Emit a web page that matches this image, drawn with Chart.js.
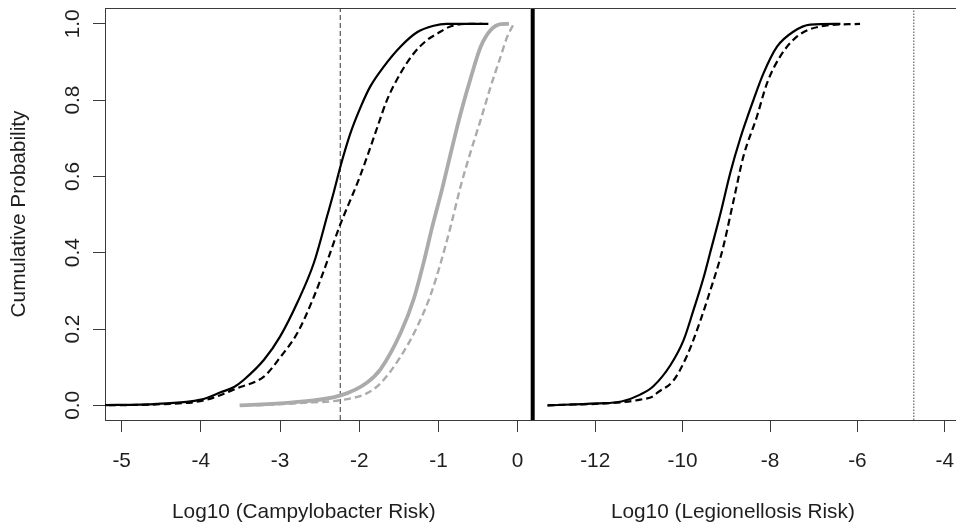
<!DOCTYPE html>
<html>
<head>
<meta charset="utf-8">
<script src="https://cdn.jsdelivr.net/npm/chart.js@4.4.1/dist/chart.umd.min.js"></script>
<style>
  html, body { margin: 0; padding: 0; background: #ffffff; }
  #wrap { width: 956px; height: 522px; }
</style>
</head>
<body>
<div id="wrap"><canvas id="c" width="956" height="522"></canvas></div>
<script>
// ---- Campylobacter panel (log10 risk) ----
const campyBaseX = [-5.3, -4.55, -4.0, -3.75, -3.58, -3.456, -3.2, -3.0, -2.78, -2.57, -2.40, -2.32, -2.235, -2.11, -1.98, -1.86, -1.69, -1.48, -1.27, -1.06, -0.9, -0.37];
const campyBaseY = [0.0, 0.004, 0.015, 0.034, 0.048, 0.067, 0.12, 0.18, 0.27, 0.375, 0.50, 0.56, 0.628, 0.714, 0.783, 0.836, 0.888, 0.94, 0.978, 0.995, 1.0, 1.0];

const campyAltX = [-5.3, -4.5, -3.96, -3.54, -3.20, -2.99, -2.78, -2.57, -2.40, -2.256, -2.0, -1.90, -1.77, -1.65, -1.48, -1.31, -1.14, -1.01, -0.85, -0.59, -0.45];
const campyAltY = [0.0, 0.003, 0.013, 0.045, 0.076, 0.128, 0.19, 0.286, 0.38, 0.465, 0.595, 0.652, 0.73, 0.80, 0.87, 0.923, 0.958, 0.975, 0.993, 1.0, 1.0];

const campyHighX = [-3.51, -2.87, -2.235, -1.90, -1.73, -1.477, -1.31, -1.18, -1.077, -0.95, -0.846, -0.72, -0.59, -0.467, -0.34, -0.21, -0.11];
const campyHighY = [0.0, 0.007, 0.026, 0.06, 0.095, 0.19, 0.28, 0.38, 0.469, 0.57, 0.66, 0.765, 0.86, 0.94, 0.984, 0.999, 1.0];

const campyHighAltX = [-3.3, -2.74, -2.19, -1.90, -1.73, -1.477, -1.266, -1.098, -0.972, -0.846, -0.72, -0.593, -0.467, -0.34, -0.215, -0.13, -0.067, -0.05];
const campyHighAltY = [0.0, 0.006, 0.015, 0.032, 0.058, 0.128, 0.207, 0.29, 0.373, 0.469, 0.574, 0.665, 0.748, 0.836, 0.914, 0.967, 0.993, 1.0];

const campyGuideX = -2.24;

// ---- Legionellosis panel (log10 risk) ----
const legioBaseX = [-13.09, -11.96, -11.4, -10.97, -10.67, -10.28, -9.98, -9.75, -9.52, -9.37, -9.14, -8.91, -8.68, -8.38, -8.15, -7.84, -7.46, -7.08, -6.39];
const legioBaseY = [0.0, 0.005, 0.01, 0.028, 0.05, 0.105, 0.17, 0.25, 0.335, 0.40, 0.50, 0.609, 0.70, 0.80, 0.87, 0.94, 0.98, 0.998, 1.0];

const legioAltX = [-13.09, -11.4, -10.97, -10.67, -10.59, -10.21, -9.90, -9.60, -9.37, -9.14, -9.06, -8.83, -8.61, -8.30, -8.07, -7.77, -7.38, -6.85, -5.94];
const legioAltY = [0.0, 0.008, 0.015, 0.024, 0.032, 0.065, 0.13, 0.22, 0.30, 0.385, 0.42, 0.539, 0.652, 0.757, 0.844, 0.914, 0.967, 0.993, 1.0];

const legioGuideX = -4.71;

// ---- axes ----
const xLeftTicks = [-5, -4, -3, -2, -1, 0];
const xRightTicks = [-12, -10, -8, -6, -4];
const yTicks = [0, 0.2, 0.4, 0.6, 0.8, 1.0];
const yTickLabels = ['0.0', '0.2', '0.4', '0.6', '0.8', '1.0'];
const xLeftTitle = 'Log10 (Campylobacter Risk)';
const xRightTitle = 'Log10 (Legionellosis Risk)';
const yTitle = 'Cumulative Probability';

const X_LEFT_MIN = -5.21, X_LEFT_MAX = 0.19;
const X_RIGHT_MIN = -13.43, X_RIGHT_MAX = -3.745;
const Y_MIN = -0.0385, Y_MAX = 1.0415;

const FONT = '"Liberation Sans", Arial, sans-serif';
const FONT_SIZE = 20.8;
const TEXT = '#1e1e1e';
const FRAME = '#3a3a3a';
const GREY = '#ababab';

const pts = (xs, ys) => xs.map((x, i) => ({ x, y: ys[i] }));
const vline = (x) => [{ x, y: Y_MIN }, { x, y: Y_MAX }];

const curve = (label, xs, ys, axis, color, width, dash) => ({
  label, xAxisID: axis, data: pts(xs, ys),
  borderColor: color, borderWidth: width, borderDash: dash || [],
  cubicInterpolationMode: 'monotone', pointRadius: 0, fill: false, borderCapStyle: 'butt'
});
const rule = (label, x, axis, color, width, dash) => ({
  label, xAxisID: axis, data: vline(x),
  borderColor: color, borderWidth: width, borderDash: dash || [],
  tension: 0, pointRadius: 0, fill: false, borderCapStyle: 'butt', clip: false
});

const datasets = [
  rule('panel divider', X_LEFT_MAX, 'xL', '#000000', 4),
  curve('Campylobacter', campyBaseX, campyBaseY, 'xL', '#000000', 2.2),
  curve('Campylobacter (alt)', campyAltX, campyAltY, 'xL', '#000000', 2.2, [7, 4]),
  curve('Campylobacter (high)', campyHighX, campyHighY, 'xL', GREY, 3.8),
  curve('Campylobacter (high, alt)', campyHighAltX, campyHighAltY, 'xL', GREY, 2.4, [7, 4]),
  rule('Campylobacter guide', campyGuideX, 'xL', '#333333', 1, [5, 3]),
  curve('Legionellosis', legioBaseX, legioBaseY, 'xR', '#000000', 2.2),
  curve('Legionellosis (alt)', legioAltX, legioAltY, 'xR', '#000000', 2.2, [7, 4]),
  rule('Legionellosis guide', legioGuideX, 'xR', '#444444', 1, [1.5, 1.5])
];

const setTicks = (values) => (scale) => { scale.ticks = values.map(v => ({ value: v })); };

const xAxis = (min, max, ticks, weight) => ({
  type: 'linear', position: 'bottom', stack: 'bottom', stackWeight: weight,
  min, max,
  afterBuildTicks: setTicks(ticks),
  afterFit: (s) => { s.height = 102; s.paddingLeft = 0; s.paddingRight = 0; },
  grid: { drawOnChartArea: false, drawTicks: true, tickLength: 12, color: FRAME, lineWidth: 1 },
  border: { display: true, color: FRAME, width: 1 },
  ticks: {
    autoSkip: false, maxRotation: 0, minRotation: 0, padding: 17,
    color: TEXT, font: { family: FONT, size: FONT_SIZE },
    callback: (v) => String(v)
  }
});

// frame top edge, rotated y labels and the two axis titles
const annotate = {
  id: 'annotate',
  afterDraw(chart) {
    const { ctx, chartArea, scales } = chart;
    ctx.save();
    ctx.strokeStyle = FRAME;
    ctx.lineWidth = 1;
    ctx.beginPath();
    ctx.moveTo(chartArea.left, Math.round(chartArea.top) + 0.5);
    ctx.lineTo(chartArea.right, Math.round(chartArea.top) + 0.5);
    ctx.stroke();

    ctx.fillStyle = TEXT;
    ctx.font = FONT_SIZE + 'px ' + FONT;
    ctx.textAlign = 'center';
    ctx.textBaseline = 'alphabetic';
    yTicks.forEach((v, i) => {
      const py = scales.y.getPixelForValue(v);
      ctx.save();
      ctx.translate(78.5, py);
      ctx.rotate(-Math.PI / 2);
      ctx.fillText(yTickLabels[i], 0, 0);
      ctx.restore();
    });

    ctx.save();
    ctx.translate(25, (chartArea.top + chartArea.bottom) / 2);
    ctx.rotate(-Math.PI / 2);
    ctx.fillText(yTitle, 0, 0);
    ctx.restore();

    ctx.fillText(xLeftTitle, scales.xL.getPixelForValue(-2.70), 518);
    ctx.fillText(xRightTitle, scales.xR.getPixelForValue(-8.85), 518);
    ctx.restore();
  }
};

new Chart(document.getElementById('c'), {
  type: 'line',
  data: { datasets },
  plugins: [annotate],
  options: {
    responsive: false,
    devicePixelRatio: 1,
    animation: false,
    events: [],
    layout: { padding: { left: 0, top: 8, right: 0, bottom: 0 } },
    plugins: { legend: { display: false }, tooltip: { enabled: false } },
    scales: {
      xL: xAxis(X_LEFT_MIN, X_LEFT_MAX, xLeftTicks, 427.7),
      xR: xAxis(X_RIGHT_MIN, X_RIGHT_MAX, xRightTicks, 423.3),
      y: {
        type: 'linear', position: 'left', min: Y_MIN, max: Y_MAX,
        afterBuildTicks: setTicks(yTicks),
        afterFit: (s) => { s.width = 105; s.paddingTop = 0; s.paddingBottom = 0; },
        grid: { drawOnChartArea: false, drawTicks: true, tickLength: 12, color: FRAME, lineWidth: 1 },
        border: { display: true, color: FRAME, width: 1 },
        ticks: { display: false }
      }
    }
  }
});
</script>
</body>
</html>
